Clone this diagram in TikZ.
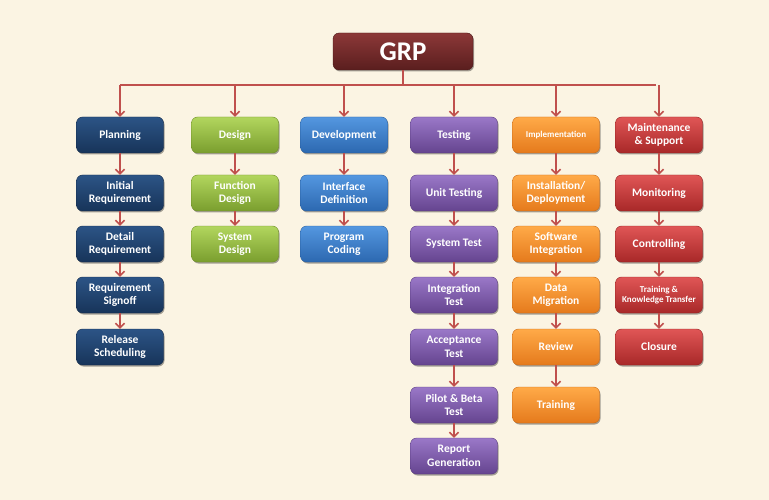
\documentclass[tikz,border=0pt]{standalone}
\usepackage{fontspec}
\setmainfont{Carlito}
\usetikzlibrary{arrows.meta,shadows}
\definecolor{bg}{HTML}{FBF4E3}
\definecolor{arrC}{HTML}{C0504D}
\definecolor{grpT}{HTML}{8C3838}\definecolor{grpB}{HTML}{5A1E1E}\definecolor{grpD}{HTML}{4A1818}
\definecolor{plaT}{HTML}{2C5486}\definecolor{plaB}{HTML}{173459}\definecolor{plaD}{HTML}{142C4C}
\definecolor{desT}{HTML}{B2D65E}\definecolor{desB}{HTML}{7A9E2E}\definecolor{desD}{HTML}{6E8E28}
\definecolor{devT}{HTML}{5497E0}\definecolor{devB}{HTML}{2C68B0}\definecolor{devD}{HTML}{285E9E}
\definecolor{tesT}{HTML}{9A78C8}\definecolor{tesB}{HTML}{65448F}\definecolor{tesD}{HTML}{5A3C80}
\definecolor{impT}{HTML}{FFAA48}\definecolor{impB}{HTML}{E57A1C}\definecolor{impD}{HTML}{C86A18}
\definecolor{mntT}{HTML}{E05656}\definecolor{mntB}{HTML}{A82828}\definecolor{mntD}{HTML}{942222}
\tikzset{
  box/.style={rounded corners=6pt, minimum width=87pt, minimum height=36pt, inner sep=1pt,
    align=center, text=white, font=\bfseries\fontsize{11.5}{13.5}\selectfont, line width=0.4pt,
    drop shadow={shadow xshift=1pt, shadow yshift=-1.5pt, opacity=0.35, fill=black}},
  grpC/.style={top color=grpT, bottom color=grpB, draw=grpD},
  planC/.style={box, top color=plaT, bottom color=plaB, draw=plaD},
  desC/.style={box, top color=desT, bottom color=desB, draw=desD},
  devC/.style={box, top color=devT, bottom color=devB, draw=devD},
  tesC/.style={box, top color=tesT, bottom color=tesB, draw=tesD},
  impC/.style={box, top color=impT, bottom color=impB, draw=impD},
  mntC/.style={box, top color=mntT, bottom color=mntB, draw=mntD},
  small/.style={font=\bfseries\fontsize{9}{10.5}\selectfont},
  arr/.style={draw=arrC, line width=2pt, -{Straight Barb[length=4.5pt,width=9pt,line width=1.6pt]}},
  conn/.style={draw=arrC, line width=2pt}
}
\begin{document}
\begin{tikzpicture}[x=1pt,y=-1pt]
\fill[bg] (0,0) rectangle (769,500);
\useasboundingbox (0,0) rectangle (769,500);

\node[box, grpC, minimum width=140pt, minimum height=37pt, font=\bfseries\fontsize{27}{30}\selectfont] (grp) at (403,51.5) {GRP};

% row 1
\node[planC] (plan) at (120,135) {Planning};
\node[desC] (des) at (235,135) {Design};
\node[devC] (dev) at (344,135) {Development};
\node[tesC] (tes) at (454,135) {Testing};
\node[impC, small] (imp) at (556,135) {Implementation};
\node[mntC] (mnt) at (659,135) {Maintenance\\\& Support};

% planning column
\node[planC] (p1) at (120,193) {Initial\\Requirement};
\node[planC] (p2) at (120,244) {Detail\\Requirement};
\node[planC] (p3) at (120,295) {Requirement\\Signoff};
\node[planC] (p4) at (120,347) {Release\\Scheduling};

% design column
\node[desC] (d1) at (235,193) {Function\\Design};
\node[desC] (d2) at (235,244) {System\\Design};

% development column
\node[devC] (v1) at (344,193) {Interface\\Definition};
\node[devC] (v2) at (344,244) {Program\\Coding};

% testing column
\node[tesC] (t1) at (454,193) {Unit Testing};
\node[tesC] (t2) at (454,244) {System Test};
\node[tesC] (t3) at (454,295) {Integration\\Test};
\node[tesC] (t4) at (454,347) {Acceptance\\Test};
\node[tesC] (t5) at (454,405) {Pilot \& Beta\\Test};
\node[tesC] (t6) at (454,456) {Report\\Generation};

% implementation column
\node[impC] (i1) at (556,193) {Installation/\\Deployment};
\node[impC] (i2) at (556,244) {Software\\Integration};
\node[impC] (i3) at (556,295) {Data\\Migration};
\node[impC] (i4) at (556,347) {Review};
\node[impC] (i5) at (556,405) {Training};

% maintenance column
\node[mntC] (m1) at (659,193) {Monitoring};
\node[mntC] (m2) at (659,244) {Controlling};
\node[mntC, small] (m3) at (659,295) {Training \&\\Knowledge Transfer};
\node[mntC] (m4) at (659,347) {Closure};

% top connectors
\coordinate (hub) at (403,85);
\coordinate (hl) at (121,85);
\coordinate (hr) at (655,85);
\draw[conn] (grp.south) -- (hub);
\draw[conn, line cap=rect] (hl) -- (hr);
\foreach \n in {plan,des,dev,tes,imp,mnt}
  \draw[arr] (\n.north |- hub) -- (\n.north);

% column connectors
\foreach \a/\b in {plan/p1,p1/p2,p2/p3,p3/p4,des/d1,d1/d2,dev/v1,v1/v2,
  tes/t1,t1/t2,t2/t3,t3/t4,t4/t5,t5/t6,imp/i1,i1/i2,i2/i3,i3/i4,i4/i5,
  mnt/m1,m1/m2,m2/m3,m3/m4}
  \draw[arr] (\a.south) -- (\b.north);
\end{tikzpicture}
\end{document}
